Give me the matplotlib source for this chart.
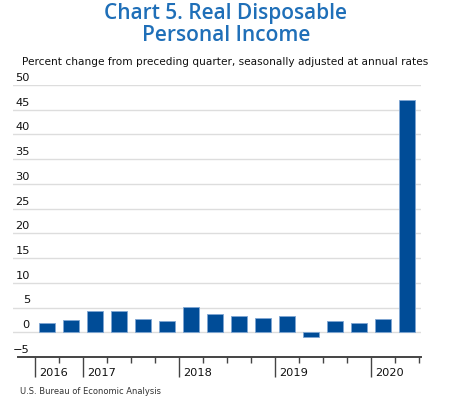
import matplotlib
matplotlib.use("Agg")
import matplotlib.pyplot as plt
from matplotlib.transforms import blended_transform_factory

quarters = ["2016Q3", "2016Q4", "2017Q1", "2017Q2", "2017Q3", "2017Q4",
            "2018Q1", "2018Q2", "2018Q3", "2018Q4", "2019Q1", "2019Q2",
            "2019Q3", "2019Q4", "2020Q1", "2020Q2"]
values = [1.9, 2.5, 4.25, 4.4, 2.7, 2.3, 5.2, 3.6, 3.2, 2.8, 3.2, -1.0,
          2.2, 1.9, 2.6, 47.0]
years = ["2016", "2017", "2018", "2019", "2020"]
yticks = [-5, 0, 5, 10, 15, 20, 25, 30, 35, 40, 45, 50]

W, H = 451, 400
fig = plt.figure(figsize=(W / 100, H / 100), dpi=100)
fig.patch.set_facecolor("white")

# axes in pixel positions
left_px, right_px, top_px, bot_px = 13, 421, 85, 357
ax = fig.add_axes([left_px / W, 1 - bot_px / H, (right_px - left_px) / W,
                   (bot_px - top_px) / H])

x = list(range(len(values)))
ax.bar(x, values, width=0.68, color="#004C97", edgecolor="#7FA6D3",
       linewidth=0.6, zorder=3)

ax.set_xlim((left_px - 47) / 24, (right_px - 47) / 24)
ax.set_ylim(-5, 50)

for s in ["top", "left", "right"]:
    ax.spines[s].set_visible(False)
ax.spines["bottom"].set_color("#444444")
ax.spines["bottom"].set_linewidth(1.4)
ax.spines["bottom"].set_bounds((18 - 47) / 24, (right_px - 47) / 24)

# gridlines
for v in yticks[1:]:
    ax.axhline(v, color="#DDDDDD", linewidth=1.0, zorder=1)

ax.set_yticks([])

# y tick labels above gridlines
tr = blended_transform_factory(fig.transFigure, ax.transData)
for v in yticks:
    lab = ("\u2212" + str(-v)) if v < 0 else str(v)
    ax.annotate(lab, xy=(30 / W, v), xycoords=tr, xytext=(0, 1.5),
                textcoords="offset points", ha="right", va="bottom",
                fontsize=8.2, color="#111111", family="DejaVu Sans",
                annotation_clip=False)

# x ticks: year boundaries (major) and quarter boundaries (minor)
year_start_idx = []
for i, q in enumerate(quarters):
    if i == 0 or q[:4] != quarters[i - 1][:4]:
        year_start_idx.append(i)
major = [i - 0.5 for i in year_start_idx]
allb = [i - 0.5 for i in range(len(values) + 1)]
minor = [b for b in allb if b not in major]
ax.set_xticks(major)
ax.set_xticks(minor, minor=True)
ax.tick_params(axis="x", which="major", length=14.5, width=1.0,
               color="#444444", labelbottom=False)
ax.tick_params(axis="x", which="minor", length=4.5, width=1.0,
               color="#444444", labelbottom=False)

for b, yr in zip(major, years):
    ax.annotate(yr, xy=(b, 0), xycoords=("data", "axes fraction"),
                xytext=(3.2, -11.5), textcoords="offset points",
                ha="left", va="center", fontsize=8.2, color="#111111",
                annotation_clip=False)

# titles
tfont = dict(ha="center", va="center", fontsize=15, fontweight="semibold",
             color="#1F6FB8", family=["Open Sans", "DejaVu Sans"])
fig.text(226 / W, 1 - 13.5 / H, "Chart 5. Real Disposable", **tfont)
fig.text(226 / W, 1 - 35.5 / H, "Personal Income", **tfont)
fig.text(22 / W, 1 - 62 / H,
         "Percent change from preceding quarter, seasonally adjusted at annual rates",
         ha="left", va="center", fontsize=7.6, color="#111111")
fig.text(20 / W, 1 - 392 / H, "U.S. Bureau of Economic Analysis",
         ha="left", va="center", fontsize=6.0, color="#333333")

fig.savefig("out.png", dpi=100, facecolor="white")
